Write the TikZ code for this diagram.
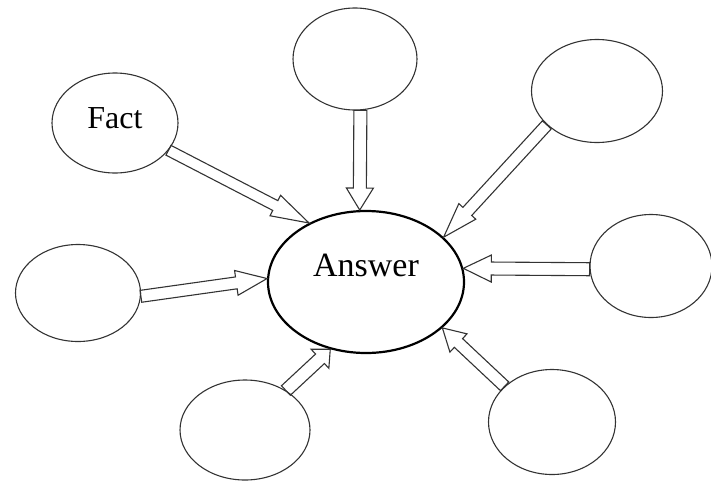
\documentclass[tikz,border=0pt]{standalone}
\usepackage{fontspec}
\setmainfont{Liberation Serif}
\usetikzlibrary{shapes.geometric,calc}

\begin{document}
\begin{tikzpicture}[x=1pt,y=-1pt,
    blank/.style={ellipse,draw=black!80,line width=1.1pt,inner sep=0pt},
    big font/.style={font=\fontsize{32}{38}\selectfont},
    shaftw/.store in=\shaftw, headw/.store in=\headw, headl/.store in=\headl,
    shaftw=6pt, headw=12.5pt, headl=28pt,
    blockarrow/.style={draw=black!80,line width=1.1pt,line join=miter,to path={
        let \p1=(\tikztostart), \p2=(\tikztotarget), \n1={atan2(\y2-\y1,\x2-\x1)},
            \p3=($(\p2)!\headl!(\p1)$) in
        ($(\p1)+(\n1+90:\shaftw)$) -- ($(\p3)+(\n1+90:\shaftw)$) -- ($(\p3)+(\n1+90:\headw)$)
        -- (\p2) -- ($(\p3)+(\n1-90:\headw)$) -- ($(\p3)+(\n1-90:\shaftw)$)
        -- ($(\p1)+(\n1-90:\shaftw)$) -- cycle}}]

    \useasboundingbox (0,0) rectangle (711,482);

    % centre
    \node[blank, draw=black, line width=2.2pt, minimum width=196pt, minimum height=142pt,
          label={[big font,font=\fontsize{34}{40}\selectfont,yshift=17pt]center:Answer}] (ans) at (366,282) {};

    % outer ellipses
    \node[blank, minimum width=126pt, minimum height=100pt,
          label={[big font,yshift=5pt]center:Fact}] (fact) at (115,123) {};
    \node[blank, minimum width=124pt, minimum height=102pt] (top) at (355,59) {};
    \node[blank, minimum width=131pt, minimum height=103pt] (topr) at (597,91) {};
    \node[blank, minimum width=125pt, minimum height=97pt] (lft) at (78,293) {};
    \node[blank, minimum width=122pt, minimum height=103pt] (rgt) at (651,266) {};
    \node[blank, minimum width=130pt, minimum height=100pt] (botl) at (245,430) {};
    \node[blank, minimum width=127pt, minimum height=105pt] (botr) at (552,422) {};

    % arrows
    \draw[blockarrow, shaftw=5.5pt, headw=11.5pt, headl=38pt] (fact.-27) to (ans.134);
    \draw[blockarrow, shaftw=6.5pt, headw=13.5pt, headl=22pt] (top.-84) to (ans.95);
    \draw[blockarrow, shaftw=6pt, headw=11.5pt, headl=35pt] (topr.214) to (ans.30);
    \draw[blockarrow, shaftw=6pt, headw=12.5pt, headl=31pt] (lft.-3) to (ans.178);
    \draw[blockarrow, shaftw=6.5pt, headw=13.5pt, headl=28pt] (rgt.183) to (ans.8);
    \draw[blockarrow, shaftw=6.5pt, headw=13pt, headl=14pt] (botl.44) to (ans.-118);
    \draw[blockarrow, shaftw=6pt, headw=12.5pt, headl=22pt] (botr.143) to (ans.-31);
\end{tikzpicture}
\end{document}
